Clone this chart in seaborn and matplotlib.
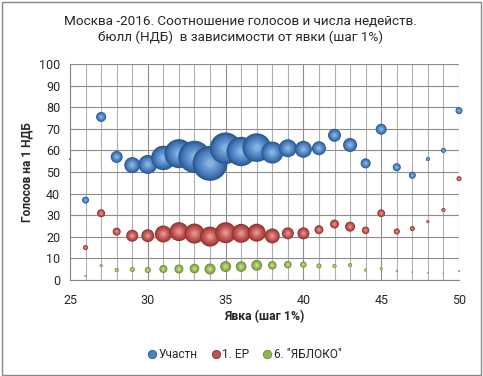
import numpy as np
import pandas as pd
import matplotlib
matplotlib.use("Agg")
import matplotlib.pyplot as plt
from matplotlib.lines import Line2D
from matplotlib.patches import Rectangle
import seaborn as sns

# Явка, шаг 1%
turnout = list(range(25, 51))

# Голосов на 1 НДБ
uchastn = [56, 37, 75.5, 57, 53.2, 53.5, 56.5, 58.5, 57, 54, 61, 59.5, 61.3,
           59, 61, 60.5, 61, 67, 62.5, 54, 69.8, 52.2, 48.5, 56, 60, 78.4]
er = [np.nan, 15, 30.9, 22.4, 20.5, 20.5, 21.3, 22.4, 21.5, 20.1, 21.9, 21.6, 21.9,
      20.4, 21.6, 21.6, 23.3, 25.9, 24.7, 23, 30.9, 22.5, 23.8, 27, 32.4, 46.9]
yabloko = [np.nan, 1.9, 6.6, 4.6, 4.9, 4.6, 5.1, 5.1, 5.3, 5.1, 6.2, 6.2, 6.8,
           6.8, 7.1, 7.1, 6.5, 6.5, 6.9, 4.6, 5.2, 4.2, 3.6, 3.3, 3.1, 4.2]

# Размер пузырей (относительная площадь)
uchastn_size = [1.4, 12, 25, 36, 64, 90, 150, 210, 260, 306, 250, 215, 205,
                121, 81, 72, 49, 42, 49, 25, 30, 16, 12, 4, 6, 12]
er_size = [np.nan, 6, 16, 16, 36, 42, 72, 90, 100, 100, 110, 90, 81,
           56, 36, 36, 20, 20, 25, 14, 15, 9, 6, 2.2, 4, 6]
yabloko_size = [np.nan, 1, 2.2, 4, 6, 9, 16, 20, 23, 30, 30, 28, 29,
                18, 14, 10, 6, 4, 4, 2.2, 2.2, 1, 0.5, 0.4, 0.5, 0.5]

series_names = ["Участн", "1. ЕР", '6. "ЯБЛОКО"']

# оттенки от края к центру (имитация объёмного шара)
shades = {
    "Участн": ["#2B5890", "#3767A3", "#4274B4", "#4D81C0", "#5B8ECB", "#6E9DD4", "#86B0DD"],
    "1. ЕР": ["#8E3230", "#A3403D", "#B24946", "#C0524F", "#CA625F", "#D47773", "#DE918E"],
    '6. "ЯБЛОКО"': ["#6B8A30", "#7A9A3C", "#87A846", "#94B551", "#A2C061", "#B2CB78", "#C4D893"],
}
radius_f = [1.0, 0.9, 0.8, 0.68, 0.55, 0.4, 0.24]

VMAX = 306
SMAX = VMAX * (2 * 0.72) ** 2  # px^2 -> pt^2 at dpi 100

sns.set_style("white")
plt.rcParams["font.family"] = ["Roboto", "DejaVu Sans"]

fig = plt.figure(figsize=(4.83, 3.76), dpi=100)
ax = fig.add_axes([70 / 483, 1 - 280 / 376, 389 / 483, 216 / 376])

for name, yv, sz in zip(series_names, [uchastn, er, yabloko],
                        [uchastn_size, er_size, yabloko_size]):
    rows = []
    for x, y, s in zip(turnout, yv, sz):
        if np.isnan(y):
            continue
        for j, f in enumerate(radius_f):
            rows.append({"x": x, "y": y, "s": s * f * f, "layer": f"l{j}"})
    df = pd.DataFrame(rows)
    pal = {f"l{j}": c for j, c in enumerate(shades[name])}
    sns.scatterplot(data=df, x="x", y="y", hue="layer", palette=pal,
                    size="s", sizes=(0, SMAX), size_norm=(0, VMAX),
                    linewidth=0, legend=False, clip_on=False, ax=ax)

ax.set_xlim(25, 50)
ax.set_ylim(0, 100)
ax.set_xticks(range(25, 51, 5))
ax.set_xticks(range(25, 51), minor=True)
ax.set_yticks(range(0, 101, 10))
ax.grid(which="major", color="#8C8C8C", linewidth=0.8)
ax.grid(which="minor", axis="x", color="#B0B0B0", linewidth=0.8)
ax.set_axisbelow(True)
ax.tick_params(which="major", direction="out", length=4, color="#868686",
               labelsize=9, pad=3)
ax.tick_params(which="minor", length=0)
ax.tick_params(axis="x", pad=6)
for side in ["top", "right"]:
    ax.spines[side].set_visible(False)
for side in ["left", "bottom"]:
    ax.spines[side].set_color("#868686")
    ax.spines[side].set_linewidth(0.8)
ax.set_xlabel("")
ax.set_ylabel("")

fig.text(240 / 483, 1 - 29.5 / 376,
         "Москва -2016. Соотношение голосов и числа недейств.\nбюлл (НДБ)  в зависимости от явки (шаг 1%)",
         ha="center", va="center", fontsize=9.7, linespacing=1.3)
fig.text(27 / 483, 1 - 172 / 376, "Голосов на 1 НДБ", rotation=90,
         ha="center", va="center", fontsize=8.6, fontweight="bold")
fig.text(264 / 483, 1 - 317 / 376, "Явка (шаг 1%)",
         ha="center", va="center", fontsize=8.8, fontweight="bold")

handles = [Line2D([], [], marker="o", linestyle="", markersize=6,
                  markerfacecolor=shades[n][3], markeredgecolor=shades[n][0],
                  markeredgewidth=0.6) for n in series_names]
fig.legend(handles, series_names, loc="center", ncol=3, frameon=False,
           bbox_to_anchor=(244 / 483, 1 - 355 / 376), fontsize=8.6,
           handletextpad=0.05, columnspacing=1.0, handlelength=1.0)

fig.add_artist(Rectangle((2 / 483, 1.5 / 376), 479 / 483, 373 / 376,
                         transform=fig.transFigure, fill=False,
                         edgecolor="#888888", linewidth=1))

fig.savefig("out.png", dpi=100, facecolor="white")
